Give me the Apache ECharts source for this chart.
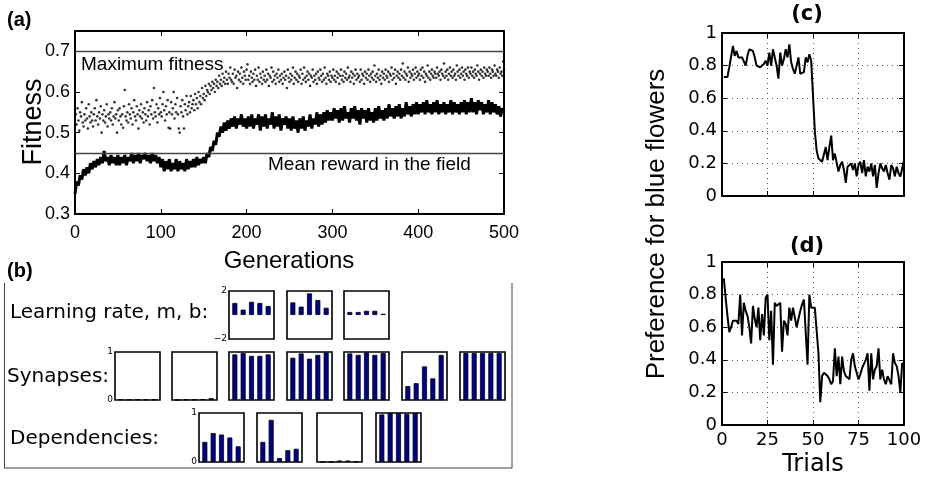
<!DOCTYPE html>
<html><head><meta charset="utf-8">
<script src="https://cdn.jsdelivr.net/npm/echarts@6/dist/echarts.min.js"></script>
<style>html,body{margin:0;padding:0;background:#fff}#c{width:934px;height:477px}</style>
</head><body><div id="c"></div>
<script>
// ---------------- DATA ----------------
// (a) maximum fitness per generation (generations 1..500)
const maxFitnessDots = [
.545,.52,.56,.53,.505,.55,.54,.575,.525,.515,.545,.53,.56,.535,.51,.57,.54,.525,.55,.53,
.515,.545,.56,.53,.58,.54,.52,.55,.535,.565,.50,.545,.53,.555,.525,.54,.57,.515,.545,.535,
.55,.53,.56,.52,.54,.575,.535,.545,.50,.555,.53,.56,.54,.52,.545,.512,.565,.605,.54,.53,
.55,.525,.57,.545,.535,.56,.52,.55,.58,.54,.53,.565,.545,.51,.555,.54,.57,.535,.55,.525,
.56,.545,.53,.575,.54,.555,.52,.565,.545,.58,.535,.61,.55,.54,.57,.525,.56,.545,.585,.55,
.54,.57,.60,.555,.53,.565,.545,.58,.512,.55,.51,.575,.545,.56,.60,.535,.57,.55,.585,.545,
.51,.50,.565,.55,.58,.54,.51,.57,.555,.59,.545,.565,.575,.55,.59,.56,.57,.58,.555,.595,
.57,.585,.56,.60,.575,.59,.57,.61,.585,.595,.58,.615,.59,.605,.60,.62,.595,.615,.605,.625,
.61,.62,.60,.63,.615,.625,.61,.64,.62,.63,.615,.645,.625,.635,.62,.65,.63,.62,.645,.635,
.66,.63,.625,.645,.62,.655,.635,.64,.61,.65,.63,.645,.625,.66,.635,.62,.65,.64,.63,.655,
.668,.63,.64,.62,.65,.635,.625,.645,.63,.655,.615,.64,.63,.66,.625,.645,.635,.62,.65,.63,
.64,.625,.655,.63,.645,.615,.64,.635,.66,.625,.65,.63,.64,.62,.645,.635,.655,.625,.64,.63,
.645,.62,.635,.65,.63,.64,.61,.655,.635,.625,.645,.63,.64,.66,.62,.635,.65,.63,.645,.625,
.64,.635,.655,.62,.645,.63,.66,.635,.625,.64,.65,.63,.645,.615,.64,.635,.655,.625,.64,.63,
.645,.62,.65,.635,.63,.655,.64,.625,.645,.63,.66,.635,.62,.645,.64,.63,.65,.625,.64,.635,
.655,.63,.64,.625,.65,.635,.645,.62,.64,.655,.63,.64,.625,.65,.635,.645,.63,.66,.635,.64,
.625,.65,.635,.645,.62,.64,.655,.63,.645,.635,.64,.625,.655,.63,.645,.64,.62,.65,.635,.645,
.63,.655,.64,.625,.645,.635,.65,.63,.665,.64,.625,.645,.635,.655,.63,.64,.62,.65,.635,.645,
.63,.655,.64,.635,.65,.625,.645,.64,.66,.63,.645,.635,.655,.62,.64,.65,.635,.645,.63,.655,
.64,.67,.635,.65,.63,.645,.64,.66,.625,.65,.635,.645,.64,.655,.63,.645,.66,.635,.65,.64,
.645,.63,.655,.64,.66,.635,.65,.625,.645,.64,.665,.635,.65,.63,.645,.655,.64,.635,.65,.645,
.635,.66,.645,.64,.65,.63,.655,.645,.64,.67,.635,.65,.64,.655,.63,.645,.66,.64,.65,.635,
.655,.64,.645,.63,.665,.65,.64,.655,.635,.645,.66,.64,.65,.63,.655,.645,.64,.66,.635,.65,
.645,.66,.64,.65,.635,.655,.645,.64,.665,.65,.63,.645,.655,.64,.65,.635,.66,.645,.64,.655,
.65,.64,.66,.645,.635,.655,.65,.64,.665,.645,.64,.655,.65,.635,.66,.645,.65,.64,.675,.655
];
// (a) mean fitness, sampled every 2 generations (0..500)
const meanFitness = [
.35,.38,.37,.395,.385,.41,.395,.415,.40,.425,.41,.43,.415,.435,.42,.44,.425,.455,.43,.44,.42,.445,.425,.44,.42,
.445,.42,.44,.425,.445,.42,.44,.43,.45,.425,.445,.43,.45,.425,.445,.435,.45,.43,.445,.425,.45,.43,.445,.425,.44,
.415,.435,.405,.43,.41,.435,.405,.425,.41,.435,.405,.43,.41,.425,.405,.435,.41,.43,.415,.435,.415,.44,.42,.435,.425,
.44,.425,.45,.44,.465,.455,.48,.47,.50,.49,.515,.50,.525,.505,.53,.51,.535,.515,.54,.51,.535,.52,.545,.515,.535,
.51,.54,.515,.545,.51,.535,.52,.545,.505,.54,.515,.545,.51,.535,.52,.55,.51,.54,.515,.545,.505,.535,.52,.54,.51,
.535,.505,.54,.51,.53,.50,.535,.51,.54,.505,.53,.515,.545,.51,.535,.52,.55,.515,.545,.52,.55,.525,.555,.53,.55,
.53,.56,.535,.555,.525,.56,.53,.565,.535,.55,.525,.56,.535,.565,.53,.555,.52,.56,.535,.555,.525,.56,.53,.55,.525,
.56,.53,.565,.535,.555,.53,.56,.535,.57,.54,.56,.535,.565,.54,.57,.535,.56,.54,.575,.545,.565,.54,.57,.545,.575,
.545,.57,.55,.575,.545,.58,.55,.57,.545,.575,.55,.58,.545,.57,.55,.575,.545,.57,.55,.58,.545,.575,.55,.57,.545,
.575,.55,.58,.545,.575,.55,.585,.55,.575,.545,.58,.555,.575,.545,.57,.55,.58,.545,.575,.55,.57,.545,.565,.54,.56,.55
];
const meanFitnessStep = 2;
const refLines = [0.7, 0.45];
const refLabels = ['Maximum fitness', 'Mean reward in the field'];
// (c), (d) preference for blue flowers, trials 1..100
const prefC = [
.73,.73,.73,.79,.80,.92,.86,.89,.85,.85, .85,.84,.80,.86,.90,.90,.89,.85,.80,.79,
.79,.80,.81,.83,.80,.88,.80,.90,.85,.80, .72,.88,.80,.84,.90,.85,.93,.82,.78,.75,
.80,.85,.75,.76,.76,.85,.82,.87,.83,.82, .40,.28,.23,.22,.21,.20,.30,.22,.30,.37,
.22,.26,.25,.15,.19,.21,.16,.08,.18,.17, .20,.16,.20,.12,.19,.21,.14,.22,.12,.18,
.15,.20,.12,.19,.05,.14,.20,.17,.15,.19, .14,.10,.19,.17,.12,.18,.14,.12,.13,.22
];
const prefD = [
.90,.78,.67,.57,.60,.64,.65,.64,.62,.80, .55,.75,.70,.67,.60,.50,.73,.65,.60,.72,
.52,.68,.55,.78,.80,.52,.70,.37,.75,.73, .74,.75,.45,.64,.62,.55,.72,.64,.72,.66,
.60,.65,.70,.74,.77,.78,.37,.80,.72,.72, .72,.72,.44,.14,.30,.32,.31,.30,.28,.25,
.27,.47,.30,.42,.25,.42,.33,.30,.29,.28, .40,.44,.36,.32,.28,.31,.35,.35,.40,.44,
.21,.44,.28,.34,.36,.47,.28,.34,.28,.25, .30,.30,.25,.44,.38,.36,.30,.20,.38,.36
];
// (b) bar panels, 5 bars each
const learningRate = [
  [1.0, 0.45, 1.1, 1.0, 0.75],
  [1.05, 0.7, 1.8, 1.25, 0.6],
  [0.25, 0.25, 0.35, 0.35, 0.1]
];
const synapses = [
  [0.01, 0.01, 0.01, 0.01, 0.01],
  [0.0, 0.01, 0.01, 0.02, 0.04],
  [0.95, 0.98, 0.92, 0.92, 0.95],
  [0.88, 0.97, 0.86, 0.94, 0.99],
  [0.97, 0.94, 0.99, 0.94, 0.98],
  [0.29, 0.35, 0.70, 0.45, 0.94],
  [0.98, 0.98, 0.98, 0.98, 0.98]
];
const dependencies = [
  [0.41, 0.59, 0.56, 0.50, 0.32],
  [0.41, 0.86, 0.08, 0.24, 0.27],
  [0.0, 0.0, 0.03, 0.03, 0.01],
  [0.97, 1.0, 1.0, 0.98, 1.0]
];
const rowLabels = ['Learning rate, m, b:', 'Synapses:', 'Dependencies:'];
const lrRange = [-2, 2];
const unitRange = [0, 1];

// ---------------- FONTS ----------------
const FD = "'DejaVu Sans', sans-serif";
const FA = "'Liberation Sans', Arial, sans-serif";

// ---------------- CHART ----------------
const grids = [], xAxes = [], yAxes = [], series = [];
const boxLine = {show: true, onZero: false, lineStyle: {color: '#000', width: 2}};

function mainAxes(g, xmin, xmax, xint, ymin, ymax, yint, opts) {
  const xi = xAxes.length, yi = yAxes.length;
  const grid = opts.grid;
  const dotted = {show: true, lineStyle: {color: '#555', type: [1, 4], width: 1}};
  xAxes.push({gridIndex: g, type: 'value', min: xmin, max: xmax, interval: xint, position: 'bottom',
    axisLine: boxLine, axisTick: {inside: true, length: 5, lineStyle: {color: '#000'}},
    axisLabel: {show: opts.xLabels, fontFamily: opts.font, fontSize: opts.fs, color: '#000', margin: opts.xm},
    splitLine: grid ? dotted : {show: false}});
  xAxes.push({gridIndex: g, type: 'value', min: xmin, max: xmax, interval: xint, position: 'top',
    axisLine: boxLine, axisTick: {inside: true, length: 5, lineStyle: {color: '#000'}},
    axisLabel: {show: false}, splitLine: {show: false}});
  yAxes.push({gridIndex: g, type: 'value', min: ymin, max: ymax, interval: yint, position: 'left',
    axisLine: boxLine, axisTick: {inside: true, length: 5, lineStyle: {color: '#000'}},
    axisLabel: {fontFamily: opts.font, fontSize: opts.fs, color: '#000', margin: 5,
      formatter: v => {const r = Math.round(v / yint) * yint; if (Math.abs(r - v) > 1e-6) return ''; return String(+r.toFixed(1));}},
    splitLine: grid ? dotted : {show: false}});
  yAxes.push({gridIndex: g, type: 'value', min: ymin, max: ymax, interval: yint, position: 'right',
    axisLine: boxLine, axisTick: {inside: true, length: 5, lineStyle: {color: '#000'}},
    axisLabel: {show: false}, splitLine: {show: false}});
  return [xi, yi];
}

// panel (a)
grids.push({left: 75, top: 31, width: 429, height: 183});
const [axA, ayA] = mainAxes(0, 0, 500, 100, 0.3, 0.75, 0.1, {font: FA, fs: 18, xLabels: true, xm: 10, grid: false});
series.push({type: 'scatter', xAxisIndex: axA, yAxisIndex: ayA, symbolSize: 2.6, silent: true,
  itemStyle: {color: '#000'}, data: maxFitnessDots.map((v, i) => [i + 1, v]), z: 3});
series.push({type: 'line', xAxisIndex: axA, yAxisIndex: ayA, showSymbol: false, silent: true,
  lineStyle: {color: '#000', width: 3}, data: meanFitness.map((v, i) => [i * meanFitnessStep, v]), z: 4,
  markLine: {symbol: 'none', silent: true, label: {show: false}, animation: false,
    lineStyle: {color: '#444', width: 1.4, type: 'solid'}, data: refLines.map(v => ({yAxis: v}))}});

// panel (c)
grids.push({left: 722, top: 33, width: 182, height: 163});
const [axC, ayC] = mainAxes(1, 0, 100, 25, 0, 1, 0.2, {font: FD, fs: 18, xLabels: false, xm: 8, grid: true});
series.push({type: 'line', xAxisIndex: axC, yAxisIndex: ayC, showSymbol: false, silent: true,
  lineStyle: {color: '#000', width: 2}, data: prefC.map((v, i) => [i + 1, v])});
// panel (d)
grids.push({left: 722, top: 262, width: 182, height: 163});
const [axD, ayD] = mainAxes(2, 0, 100, 25, 0, 1, 0.2, {font: FD, fs: 18, xLabels: true, xm: 6, grid: true});
series.push({type: 'line', xAxisIndex: axD, yAxisIndex: ayD, showSymbol: false, silent: true,
  lineStyle: {color: '#000', width: 2}, data: prefD.map((v, i) => [i + 1, v])});

// panel (b) mini bar charts
function miniRow(rows, xs, top, h, range) {
  rows.forEach((vals, k) => {
    const g = grids.length;
    grids.push({left: xs[k], top: top, width: 45, height: h, show: true, borderColor: '#000', borderWidth: 1.6, backgroundColor: '#fff'});
    const xi = xAxes.length, yi = yAxes.length;
    xAxes.push({gridIndex: g, type: 'value', min: 0.3, max: 5.7, show: false});
    yAxes.push({gridIndex: g, type: 'value', min: range[0], max: range[1], interval: range[1] - range[0], show: k === 0,
      axisLine: {show: false}, axisTick: {show: false}, splitLine: {show: false},
      axisLabel: {fontFamily: FD, fontSize: 9, color: '#000', margin: 2,
        formatter: v => v < 0 ? '\u2212' + Math.abs(v) : String(v)}});
    series.push({type: 'bar', xAxisIndex: xi, yAxisIndex: yi, silent: true, barWidth: 5,
      itemStyle: {color: '#000090', borderColor: '#000', borderWidth: 0.8},
      data: vals.map((v, i) => [i + 1, v])});
  });
}
miniRow(learningRate, [229, 287, 344], 291, 48, lrRange);
miniRow(synapses, [115, 172, 229, 287, 344, 402, 460], 352, 48, unitRange);
miniRow(dependencies, [199, 257, 317, 376], 413, 49, unitRange);

const txt = (t, x, y, font, align, extra) => Object.assign({type: 'text', x: x, y: y, silent: true,
  style: {text: t, font: font, fill: '#000', textAlign: align || 'left', textVerticalAlign: 'middle'}}, extra || {});

const graphic = [
  {type: 'polyline', silent: true, shape: {points: [[4.5, 283], [4.5, 468], [512, 468], [512, 283]]},
    style: {fill: 'none', stroke: '#444', lineWidth: 1}, z: -1},
  txt('(a)', 7, 20, "bold 20px " + FA),
  txt('(b)', 7, 271, "bold 20px " + FA),
  txt(refLabels[0], 81, 65, "19px " + FA),
  txt(refLabels[1], 268, 165, "19px " + FA),
  txt('Generations', 289, 261, "24px " + FA, 'center'),
  txt('Fitness', 34, 122, "27px " + FA, 'center', {rotation: Math.PI / 2}),
  txt(rowLabels[0], 10, 313, "20px " + FD),
  txt(rowLabels[1], 7, 377, "20px " + FD),
  txt(rowLabels[2], 10, 439, "20px " + FD),
  txt('(c)', 807, 15, "bold 21px " + FD, 'center'),
  txt('(d)', 807, 247, "bold 21px " + FD, 'center'),
  txt('Trials', 813, 465, "24px " + FD, 'center'),
  txt('Preference for blue flowers', 657, 224, "26px " + FA, 'center', {rotation: Math.PI / 2})
];

const chart = echarts.init(document.getElementById('c'), null, {renderer: 'canvas'});
chart.setOption({animation: false, backgroundColor: '#fff', grid: grids, xAxis: xAxes, yAxis: yAxes, series: series, graphic: graphic});
</script></body></html>
